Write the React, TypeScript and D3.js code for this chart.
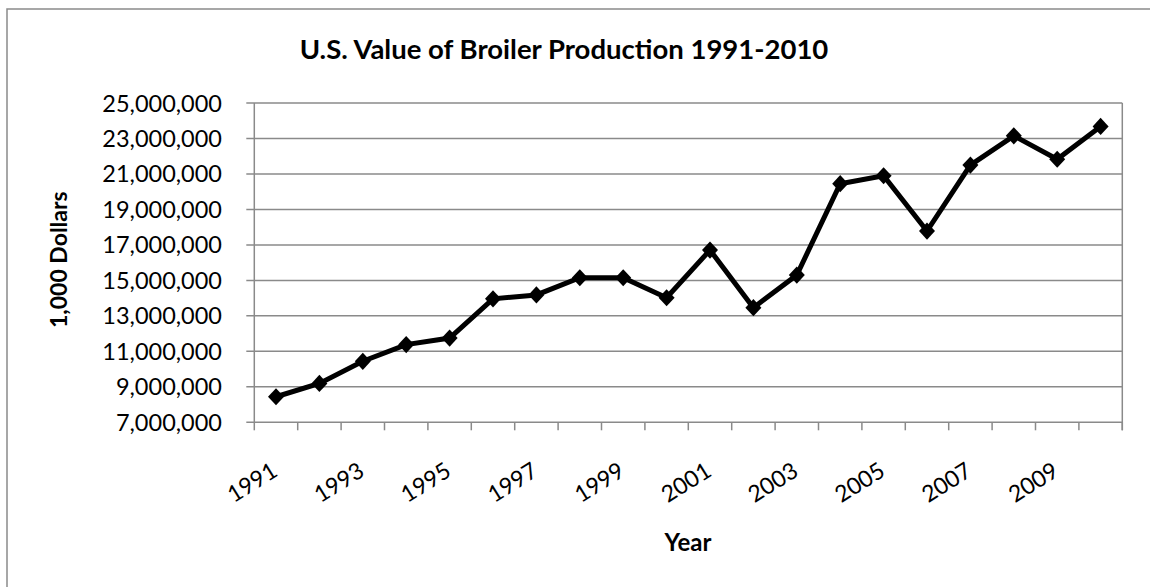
import React from "react";
import * as d3 from "d3";

const years = [1991,1992,1993,1994,1995,1996,1997,1998,1999,2000,2001,2002,2003,2004,2005,2006,2007,2008,2009,2010];
const values = [8440000,9190000,10440000,11380000,11750000,13960000,14180000,15150000,15150000,14020000,16710000,13460000,15300000,20450000,20900000,17780000,21500000,23150000,21830000,23680000];
const yTicks = [7000000,9000000,11000000,13000000,15000000,17000000,19000000,21000000,23000000,25000000];
const xLabelYears = [1991,1993,1995,1997,1999,2001,2003,2005,2007,2009];

const W = 1150, H = 587;
const plot = { left: 254.3, right: 1122.3, top: 103, bottom: 422.3 };
const FONT = "Lato, 'Open Sans', sans-serif";
const GRID = "#8a8a8a";

export default function App() {
  const x = d3.scaleBand<number>().domain(years).range([plot.left, plot.right]);
  const y = d3.scaleLinear().domain([7000000, 25000000]).range([plot.bottom, plot.top]);
  const fmt = d3.format(",");
  const cx = (yr: number) => (x(yr) as number) + x.bandwidth() / 2;
  const line = d3.line<number>().x((_, i) => cx(years[i])).y((v) => y(v));
  const diamond = { draw(ctx: any, size: number) { const w = 8, h = 8.6; ctx.moveTo(0, -h); ctx.lineTo(w, 0); ctx.lineTo(0, h); ctx.lineTo(-w, 0); ctx.closePath(); } };
  const markerPath = d3.symbol().type(diamond as any).size(1)() as string;
  const boundaries = d3.range(years.length + 1).map((i) => plot.left + i * x.step());

  return (
    <svg width={W} height={H} style={{ display: "block", position: "absolute", left: 0, top: 0 }}>
      <rect x={0} y={0} width={W} height={H} fill="#fff" />
      <rect x={7} y={9} width={W + 20} height={H + 20} fill="none" stroke={GRID} strokeWidth={1.5} />
      <text x={564} y={59} textAnchor="middle" fontFamily={FONT} fontWeight="bold" fontSize={27.5} fill="#000">
        U.S. Value of Broiler Production 1991-2010
      </text>
      {yTicks.map((t) => (
        <g key={t}>
          <line x1={plot.left - 8} x2={plot.right} y1={y(t)} y2={y(t)} stroke={GRID} strokeWidth={1.5} />
          <text x={222} y={y(t) + 8.5} textAnchor="end" fontFamily={FONT} fontSize={23.5} fill="#000">{fmt(t)}</text>
        </g>
      ))}
      <line x1={plot.left} x2={plot.left} y1={plot.top} y2={plot.bottom} stroke={GRID} strokeWidth={1.5} />
      <line x1={plot.right} x2={plot.right} y1={plot.top} y2={plot.bottom + 8} stroke={GRID} strokeWidth={1.5} />
      {boundaries.map((b, i) => (
        <line key={i} x1={b} x2={b} y1={plot.bottom} y2={plot.bottom + 8} stroke={GRID} strokeWidth={1.5} />
      ))}
      {xLabelYears.map((yr) => (
        <text key={yr} transform={`translate(${cx(yr) + 3},${475}) rotate(-32)`} textAnchor="end" fontFamily={FONT} fontSize={23} fill="#000">{yr}</text>
      ))}
      <path d={line(values) as string} fill="none" stroke="#000" strokeWidth={5} strokeLinejoin="miter" />
      {values.map((v, i) => (
        <path key={i} d={markerPath} transform={`translate(${cx(years[i])},${y(v)})`} fill="#000" />
      ))}
      <text x={688} y={551} textAnchor="middle" fontFamily={FONT} fontWeight="bold" fontSize={24} fill="#000">Year</text>
      <text transform={`translate(67,${(plot.top + plot.bottom) / 2 - 3}) rotate(-90)`} textAnchor="middle" fontFamily={FONT} fontWeight="bold" fontSize={23} fill="#000">1,000 Dollars</text>
    </svg>
  );
}
